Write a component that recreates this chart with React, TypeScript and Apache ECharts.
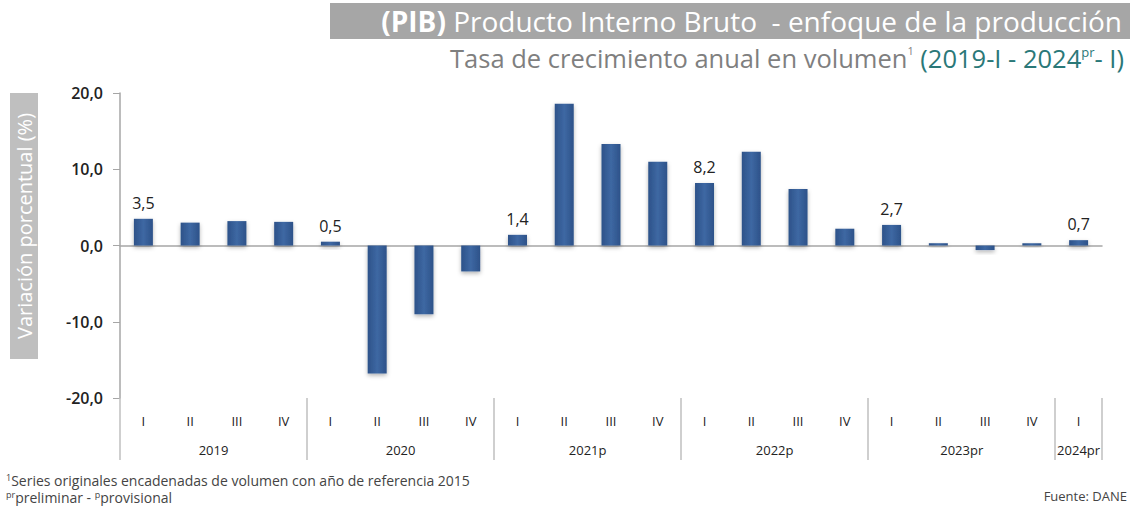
import React, { useEffect, useRef } from "react";
import * as echarts from "echarts";

const quarters = ["I","II","III","IV","I","II","III","IV","I","II","III","IV","I","II","III","IV","I","II","III","IV","I"];
const values = [3.5, 3.0, 3.2, 3.1, 0.5, -16.8, -9.0, -3.4, 1.4, 18.6, 13.3, 11.0, 8.2, 12.3, 7.4, 2.2, 2.7, 0.3, -0.6, 0.3, 0.7];
const labelled = [0, 4, 8, 12, 16, 20];
const years = ["2019", "2020", "2021p", "2022p", "2023pr", "2024pr"];
const yearCenters = [2, 6, 10, 14, 18, 20.5];
const yearBounds = [0, 4, 8, 12, 16, 20, 21];

const FONT = "'Open Sans', sans-serif";

export default function App() {
  const ref = useRef<HTMLDivElement>(null);
  useEffect(() => {
    if (!ref.current) return;
    const chart = echarts.init(ref.current, null, { renderer: "svg" });
    const barGrad = new echarts.graphic.LinearGradient(0, 0, 1, 0, [
      { offset: 0, color: "#2d5289" },
      { offset: 0.5, color: "#3e68a3" },
      { offset: 1, color: "#2d5289" },
    ]);
    chart.setOption({
      animation: false,
      grid: { left: 120, right: 28, top: 93, bottom: 108, containLabel: false },
      xAxis: [
        {
          type: "category",
          data: quarters,
          axisLine: { onZero: true, lineStyle: { color: "#a6a6a6", width: 1.5 } },
          axisTick: { show: false },
          axisLabel: { show: false },
        },
        {
          type: "category",
          data: quarters,
          position: "bottom",
          offset: 0,
          axisLine: { show: false },
          axisTick: { show: false },
          axisLabel: { margin: 16, fontSize: 13, color: "#222", fontFamily: FONT, interval: 0 },
        },
        {
          type: "value",
          min: 0,
          max: 21,
          position: "bottom",
          offset: 62,
          splitLine: { show: false },
          axisLine: { show: false },
          axisTick: {
            show: true,
            inside: true,
            length: 62,
            customValues: yearBounds,
            lineStyle: { color: "#bfbfbf", width: 1.5 },
          },
          axisLabel: {
            inside: true,
            margin: 4,
            customValues: yearCenters,
            fontSize: 13,
            color: "#222",
            fontFamily: FONT,
            formatter: (v: number) => {
              const i = yearCenters.indexOf(v);
              return i >= 0 ? years[i] : "";
            },
          },
        },
      ],
      yAxis: {
        type: "value",
        min: -20,
        max: 20,
        interval: 10,
        splitLine: { show: false },
        axisLine: { show: true, lineStyle: { color: "#a6a6a6", width: 1.5 } },
        axisTick: { show: true, length: 7, lineStyle: { color: "#a6a6a6" } },
        axisLabel: {
          margin: 17,
          fontSize: 16,
          fontWeight: 600,
          color: "#222",
          fontFamily: FONT,
          formatter: (v: number) => v.toFixed(1).replace(".", ","),
        },
      },
      series: [
        {
          type: "bar",
          xAxisIndex: 0,
          data: values,
          barWidth: 19,
          itemStyle: {
            color: barGrad,
            shadowColor: "rgba(0,0,0,0.3)",
            shadowBlur: 4,
            shadowOffsetY: 2,
          },
          label: {
            show: true,
            position: "top",
            distance: 8,
            fontSize: 16,
            color: "#222",
            fontFamily: FONT,
            formatter: (p: any) =>
              labelled.indexOf(p.dataIndex) >= 0 ? String(p.value.toFixed(1)).replace(".", ",") : "",
          },
        },
      ],
      graphic: [
        {
          type: "rect",
          shape: { x: 330, y: 3, width: 800, height: 36 },
          style: { fill: "#a6a6a6" },
        },
        {
          type: "text",
          x: 1122,
          y: 21,
          style: {
            text: "{b|(PIB)}{n| Producto Interno Bruto  - enfoque de la producción}",
            align: "right",
            verticalAlign: "middle",
            rich: {
              b: { fontSize: 28, fontWeight: "bold", fill: "#fff", fontFamily: FONT },
              n: { fontSize: 28, fill: "#fff", fontFamily: FONT },
            },
          },
        },
        {
          type: "text",
          x: 1124,
          y: 58,
          style: {
            text: "{g|Tasa de crecimiento anual en volumen}{gs|1}{t| (2019-I - 2024}{ts|pr}{t|- I)}",
            align: "right",
            verticalAlign: "middle",
            rich: {
              g: { fontSize: 25.5, fill: "#7f7f7f", fontFamily: FONT },
              gs: { fontSize: 11, fill: "#7f7f7f", fontFamily: FONT, verticalAlign: "top" },
              t: { fontSize: 25.5, fill: "#2a7878", fontFamily: FONT },
              ts: { fontSize: 13, fill: "#2a7878", fontFamily: FONT, verticalAlign: "top" },
            },
          },
        },
        {
          type: "group",
          x: 24,
          y: 226,
          rotation: Math.PI / 2,
          children: [
            {
              type: "rect",
              shape: { x: -133, y: -14, width: 266, height: 28 },
              style: { fill: "#bfbfbf" },
            },
            {
              type: "text",
              x: 0,
              y: 0,
              style: {
                text: "Variación porcentual (%)",
                align: "center",
                verticalAlign: "middle",
                fontSize: 20,
                fill: "#fff",
                fontFamily: FONT,
              },
            },
          ],
        },
        {
          type: "text",
          x: 6,
          y: 480,
          style: {
            text: "{s|1}{n|Series originales encadenadas de volumen con año de referencia 2015}",
            verticalAlign: "middle",
            rich: {
              s: { fontSize: 9, fill: "#444", fontFamily: FONT, verticalAlign: "top" },
              n: { fontSize: 14, fill: "#444", fontFamily: FONT },
            },
          },
        },
        {
          type: "text",
          x: 6,
          y: 497,
          style: {
            text: "{s|pr}{n|preliminar - }{s|p}{n|provisional}",
            verticalAlign: "middle",
            rich: {
              s: { fontSize: 9, fill: "#444", fontFamily: FONT, verticalAlign: "top" },
              n: { fontSize: 14, fill: "#444", fontFamily: FONT },
            },
          },
        },
        {
          type: "text",
          x: 1127,
          y: 496,
          style: {
            text: "Fuente: DANE",
            align: "right",
            verticalAlign: "middle",
            fontSize: 13,
            fill: "#444",
            fontFamily: FONT,
          },
        },
      ],
    });
    return () => chart.dispose();
  }, []);
  return <div ref={ref} style={{ width: 1130, height: 506, position: "absolute", left: 0, top: 0 }} />;
}
